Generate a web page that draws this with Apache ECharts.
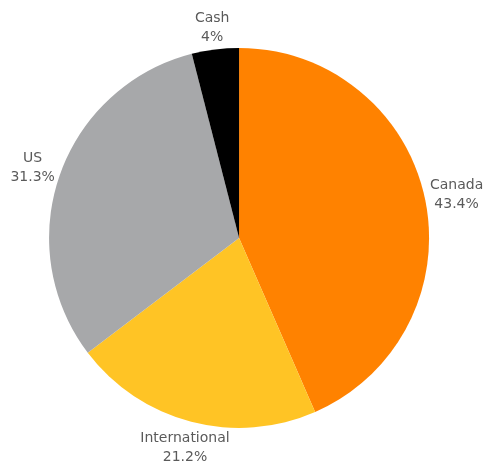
<!DOCTYPE html>
<html><head><meta charset="utf-8">
<script src="https://cdn.jsdelivr.net/npm/echarts@6/dist/echarts.min.js"></script>
<style>html,body{margin:0;padding:0;background:#fff}#c{width:496px;height:461px}</style>
</head><body><div id="c"></div>
<script>
const categories = ['Canada', 'International', 'US', 'Cash'];
const values = [43.4, 21.2, 31.3, 4];
const colors = ['#FF8200', '#FFC425', '#A7A8AA', '#000000'];

const chart = echarts.init(document.getElementById('c'), null, {renderer: 'canvas'});
const CX = 0.482, CY = 0.516, R = 190, PAD = 5;
const total = values.reduce((a, b) => a + b, 0);

chart.setOption({
  animation: false,
  series: [{
    type: 'pie',
    center: [(CX * 100) + '%', (CY * 100) + '%'],
    radius: R,
    startAngle: 90,
    clockwise: true,
    avoidLabelOverlap: false,
    data: categories.map((n, i) => ({name: n, value: values[i], itemStyle: {color: colors[i]}})),
    label: {
      show: true,
      position: 'outside',
      formatter: p => p.name + '\n' + p.value + '%',
      fontFamily: 'DejaVu Sans',
      fontSize: 14,
      lineHeight: 19,
      color: '#5a5a5a',
      align: 'center',
      overflow: 'none',
      width: 120
    },
    labelLine: {show: false},
    labelLayout: function (p) {
      const i = p.dataIndex;
      let cum = 0;
      for (let k = 0; k < i; k++) cum += values[k];
      const a = (cum + values[i] / 2) / total * Math.PI * 2;
      const dx = Math.sin(a), dy = -Math.cos(a);
      const cx = chart.getWidth() * CX, cy = chart.getHeight() * CY;
      const ex = cx + R * dx, ey = cy + R * dy;
      const ctx = document.createElement('canvas').getContext('2d');
      ctx.font = '14px "DejaVu Sans"';
      const lines = [categories[i], values[i] + '%'];
      const w = Math.max(...lines.map(s => ctx.measureText(s).width));
      const hw = w / 2, hh = 19;
      const d = Math.min(Math.abs(dx) > 1e-6 ? hw / Math.abs(dx) : 1e9, Math.abs(dy) > 1e-6 ? hh / Math.abs(dy) : 1e9) + PAD;
      return {x: ex + dx * d, y: ey + dy * d + 2, align: 'center', verticalAlign: 'middle', hideOverlap: false};
    }
  }]
});
</script></body></html>
